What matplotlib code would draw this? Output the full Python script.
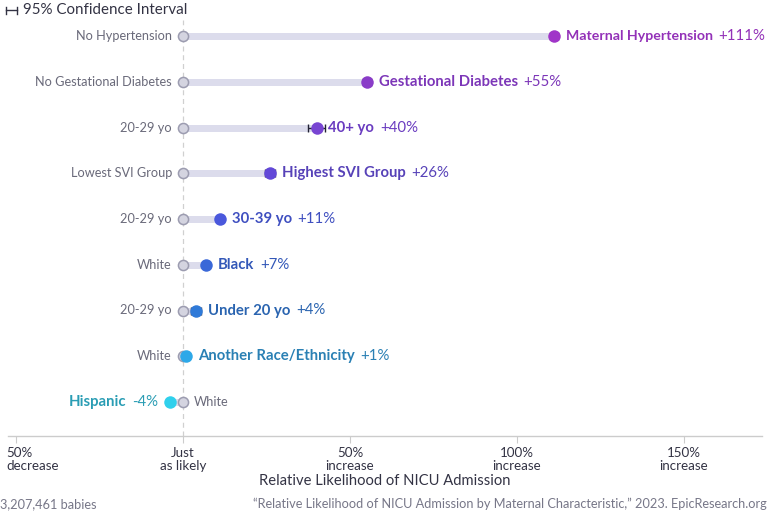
import matplotlib
matplotlib.use("Agg")
import matplotlib.pyplot as plt
from matplotlib.lines import Line2D
import matplotlib.transforms as mtrans

plt.rcParams['font.family'] = ['Lato', 'DejaVu Sans']

groups = ["Maternal Hypertension", "Gestational Diabetes", "40+ yo", "Highest SVI Group",
          "30-39 yo", "Black", "Under 20 yo", "Another Race/Ethnicity", "Hispanic"]
references = ["No Hypertension", "No Gestational Diabetes", "20-29 yo", "Lowest SVI Group",
              "20-29 yo", "White", "20-29 yo", "White", "White"]
values = [111, 55, 40, 26, 11, 7, 4, 1, -4]
ci_half = [1.2, 1.2, 2.5, 1.5, 0.0, 0.0, 1.5, 0.0, 0.0]
value_labels = ["+111%", "+55%", "+40%", "+26%", "+11%", "+7%", "+4%", "+1%", "-4%"]
dot_colors = ["#a035c8", "#8a3cc8", "#7845d2", "#6248d8", "#4a58dc", "#3a68d8", "#2f7ad8", "#2ea8e8", "#30d0ec"]
text_colors = ["#9331b8", "#7c36b8", "#6a3cc0", "#5742b8", "#3f4fc0", "#3358b8", "#2a64b0", "#2a80b4", "#2a9db4"]
tick_vals = [-50, 0, 50, 100, 150]
tick_labels = ["50%\ndecrease", "Just\nas likely", "50%\nincrease", "100%\nincrease", "150%\nincrease"]

W, H = 768, 512
fig = plt.figure(figsize=(W / 100, H / 100), dpi=100)
x0_px, x1_px = 8, 762
top_px, bot_px = 20, 436
ax = fig.add_axes([x0_px / W, 1 - bot_px / H, (x1_px - x0_px) / W, (bot_px - top_px) / H])
scale = 3.34
zero_px = 183
ax.set_xlim((x0_px - zero_px) / scale, (x1_px - zero_px) / scale)
row_px = 45.75
ax.set_ylim((bot_px - 36) / row_px, (top_px - 36) / row_px)
for s in ["top", "right", "left"]:
    ax.spines[s].set_visible(False)
ax.spines["bottom"].set_color("#cccccc")
ax.spines["bottom"].set_linewidth(1)
ax.set_yticks([])
ax.set_xticks(tick_vals)
ax.set_xticklabels(tick_labels, fontsize=9.6, color="#333344", linespacing=1.05)
ax.tick_params(axis="x", length=5, color="#cccccc", pad=3)
first = ax.get_xticklabels()[0]
first.set_horizontalalignment("left")
first.set_transform(first.get_transform() + mtrans.ScaledTranslation(-10 / 100, 0, fig.dpi_scale_trans))

ax.axvline(0, color="#d0d0d0", lw=0.9, ls=(0, (4, 3)), zorder=0)

ys = list(range(len(groups)))
for i, (g, r, v, c, dc) in enumerate(zip(groups, references, values, ci_half, dot_colors)):
    y = ys[i]
    ax.plot([0, v], [y, y], color="#dcdcec", lw=5, solid_capstyle="butt", zorder=1)
    ax.plot([0], [y], marker="o", ms=7.3, mfc="#d4d4e0", mec="#9c9cb0", mew=1.1, zorder=3)
    if c > 0:
        ax.errorbar([v], [y], xerr=[[c], [c]], fmt="none", ecolor="#222233",
                    elinewidth=1, capsize=3.2, capthick=1, zorder=4)
    ax.plot([v], [y], marker="o", ms=9, mfc=dc, mec=dc, mew=0, zorder=5)

fig.canvas.draw()
renderer = fig.canvas.get_renderer()

for i, (g, r, v, tc, vl) in enumerate(zip(groups, references, values, text_colors, value_labels)):
    y = ys[i]
    ypix = ax.transData.transform((0, y))[1]
    if v >= 0:
        ax.annotate(r, (0, y), xytext=(-8, 0), textcoords="offset points",
                    ha="right", va="center", fontsize=9.2, color="#6a6a7a")
        t1 = ax.annotate(g, (v, y), xytext=(8.5, 0), textcoords="offset points",
                         ha="left", va="center", fontsize=10.7, fontweight="bold", color=tc)
        t3 = fig.text(0, ypix / H, vl, ha="left", va="center", fontsize=10.8, color=tc)
        bb = t1.get_window_extent(renderer)
        wv = t3.get_window_extent(renderer).width
        gap = 5.5
        if bb.x1 + gap + wv > W - 2:
            t1.set_fontsize(10.2)
            bb = t1.get_window_extent(renderer)
            if bb.x1 + gap + wv > W - 2:
                gap = max(3.0, W - 2 - wv - bb.x1)
        t3.set_x((bb.x1 + gap) / W)
    else:
        ax.annotate(r, (0, y), xytext=(8, 0), textcoords="offset points",
                    ha="left", va="center", fontsize=9.2, color="#6a6a7a")
        t2 = ax.annotate(vl, (v, y), xytext=(-8.5, 0), textcoords="offset points",
                         ha="right", va="center", fontsize=10.8, color=tc)
        bb = t2.get_window_extent(renderer)
        fig.text((bb.x0 - 6) / W, ypix / H, g, ha="right", va="center",
                 fontsize=10.7, fontweight="bold", color=tc)

# legend at top
yl = 1 - 10 / H
fig.add_artist(Line2D([6 / W, 17 / W], [yl, yl], color="#333344", lw=1))
fig.add_artist(Line2D([6 / W, 6 / W], [yl + 3.5 / H, yl - 3.5 / H], color="#333344", lw=1))
fig.add_artist(Line2D([17 / W, 17 / W], [yl + 3.5 / H, yl - 3.5 / H], color="#333344", lw=1))
fig.text(23 / W, yl, "95% Confidence Interval", ha="left", va="center",
         fontsize=10.9, color="#333344")

fig.text(385 / W, 1 - 481 / H, "Relative Likelihood of NICU Admission", ha="center", va="center",
         fontsize=10.6, color="#333344")
fig.text(0, 1 - 504 / H, "3,207,461 babies", ha="left", va="center", fontsize=9.2, color="#777788")
fig.text(767 / W, 1 - 504 / H,
         "\u201cRelative Likelihood of NICU Admission by Maternal Characteristic,\u201d 2023. EpicResearch.org",
         ha="right", va="center", fontsize=9.2, color="#777788")

fig.savefig("out.png", dpi=100)
